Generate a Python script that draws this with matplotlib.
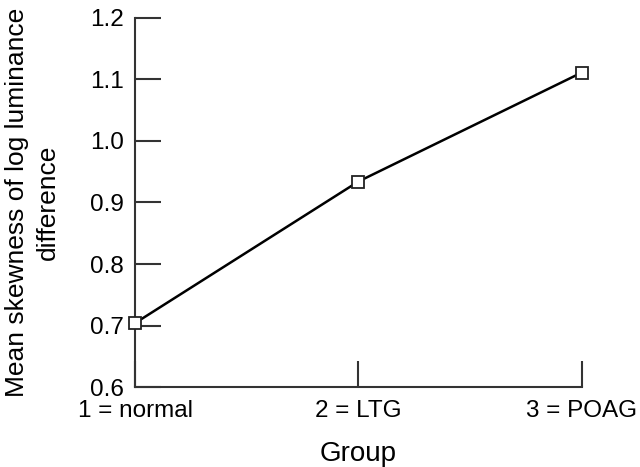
import matplotlib
matplotlib.use("Agg")
import matplotlib.pyplot as plt

categories = ["1 = normal", "2 = LTG", "3 = POAG"]
positions = [1, 2, 3]
values = [0.704, 0.934, 1.111]
yticks = [0.6, 0.7, 0.8, 0.9, 1.0, 1.1, 1.2]
ytick_labels = ["0.6", "0.7", "0.8", "0.9", "1.0", "1.1", "1.2"]

plt.rcParams['font.family'] = ['Liberation Sans', 'DejaVu Sans']
fig = plt.figure(figsize=(6.4, 4.67), dpi=100)
ax = fig.add_axes([0.211, 0.171, 0.698, 0.791])

ax.plot(positions, values, color='black', lw=1.8, marker='s', markersize=9,
        markerfacecolor='white', markeredgecolor='#222222', markeredgewidth=1.3,
        clip_on=False, zorder=5)

ax.set_xlim(1, 3)
ax.set_ylim(0.6, 1.2)
ax.set_yticks(yticks)
ax.set_yticklabels(ytick_labels)
ax.set_xticks(positions)
ax.set_xticklabels(categories)

for s in ['top', 'right']:
    ax.spines[s].set_visible(False)
for s in ['left', 'bottom']:
    ax.spines[s].set_color('#333333')
    ax.spines[s].set_linewidth(1.5)

ax.tick_params(axis='y', direction='in', length=19, width=1.5, color='#333333',
               labelsize=17.5, pad=8)
ax.tick_params(axis='x', direction='in', length=19, width=1.5, color='#333333',
               labelsize=17.5, pad=9)

ax.set_xlabel("Group", fontsize=20, labelpad=14)
ax.set_ylabel("Mean skewness of log luminance\ndifference", fontsize=19, labelpad=22,
              linespacing=1.32)

fig.savefig("out.png", dpi=100)
